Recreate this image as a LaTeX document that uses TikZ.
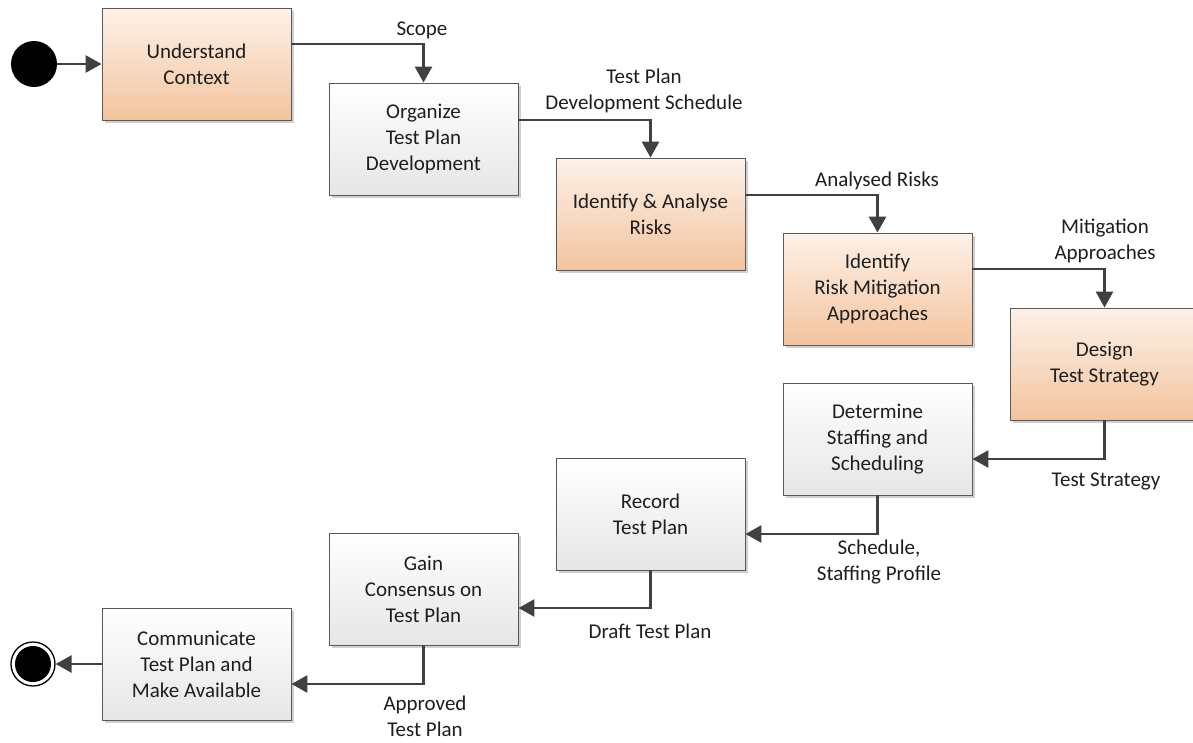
\documentclass[tikz,border=0pt]{standalone}
\usepackage{fontspec}
\setmainfont{Carlito}
\usetikzlibrary{arrows.meta,shadows,calc}
\definecolor{orangetop}{RGB}{253,241,232}
\definecolor{orangebot}{RGB}{243,196,158}
\definecolor{graytop}{RGB}{255,255,255}
\definecolor{graybot}{RGB}{230,230,230}
\definecolor{linecol}{RGB}{64,64,64}
\definecolor{txtcol}{RGB}{30,30,30}
\tikzset{
  box/.style={draw=black!65, line width=0.9pt, minimum width=189pt, minimum height=112pt,
    align=center, inner sep=2pt, text=txtcol, font=\fontsize{21}{26}\selectfont,
    shading=axis, shading angle=0,
    drop shadow={shadow xshift=3pt, shadow yshift=-3pt, fill=black!30, opacity=0.6}},
  obox/.style={box, top color=orangetop, bottom color=orangebot},
  gbox/.style={box, top color=graytop, bottom color=graybot},
  arr/.style={draw=linecol, line width=2.8pt, -{Triangle[length=16pt,width=17pt]}},
  lbl/.style={align=center, text=txtcol, font=\fontsize{21}{26}\selectfont, inner sep=0pt}
}
\begin{document}
\begin{tikzpicture}[x=1pt,y=-1pt]
\useasboundingbox (0,0) rectangle (1193,742);
\fill[white] (0,0) rectangle (1193,742);
% start / end
\node[circle, fill=black, minimum size=46pt, inner sep=0pt] (start) at (34,64) {};
\node[circle, draw=black, line width=1.3pt, fill=white, minimum size=44pt, inner sep=0pt] (endo) at (33,664) {};
\node[circle, fill=black, minimum size=36pt, inner sep=0pt] (endi) at (33,664) {};
% boxes
\node[obox] (b1) at (196.5,64) {Understand\\Context};
\node[gbox] (b2) at (423.5,139) {Organize\\Test Plan\\Development};
\node[obox] (b3) at (650.5,214) {Identify \& Analyse\\Risks};
\node[obox] (b4) at (877.5,289) {Identify\\Risk Mitigation\\Approaches};
\node[obox] (b5) at (1104.5,364) {Design\\Test Strategy};
\node[gbox] (b6) at (877.5,439) {Determine\\Staffing and\\Scheduling};
\node[gbox] (b7) at (650.5,514) {Record\\Test Plan};
\node[gbox] (b8) at (423.5,589) {Gain\\Consensus on\\Test Plan};
\node[gbox] (b9) at (196.5,664) {Communicate\\Test Plan and\\Make Available};
% connectors
\draw[arr] (start) -- (b1);
\draw[arr] ([yshift=20pt]b1.east) -| (b2.north);
\draw[arr] ([yshift=19pt]b2.east) -| (b3.north);
\draw[arr] ([yshift=19pt]b3.east) -| (b4.north);
\draw[arr] ([yshift=20pt]b4.east) -| (b5.north);
\draw[arr] (b5.south) |- ([yshift=-20pt]b6.east);
\draw[arr] (b6.south) |- ([yshift=-20pt]b7.east);
\draw[arr] (b7.south) |- ([yshift=-19pt]b8.east);
\draw[arr] (b8.south) |- ([yshift=-20pt]b9.east);
\draw[arr] (b9.west) -- (endo.east);
% labels
\node[lbl] (l1) at (422,30) {Scope};
\node[lbl] (l2) at (644,91) {Test Plan\\Development Schedule};
\node[lbl] (l3) at (877,181) {Analysed Risks};
\node[lbl] (l4) at (1105,241) {Mitigation\\Approaches};
\node[lbl] (l5) at (1106,481) {Test Strategy};
\node[lbl] (l6) at (879,562) {Schedule,\\Staffing Profile};
\node[lbl] (l7) at (650,631) {Draft Test Plan};
\node[lbl] (l8) at (425,716) {Approved\\Test Plan};
\end{tikzpicture}
\end{document}
